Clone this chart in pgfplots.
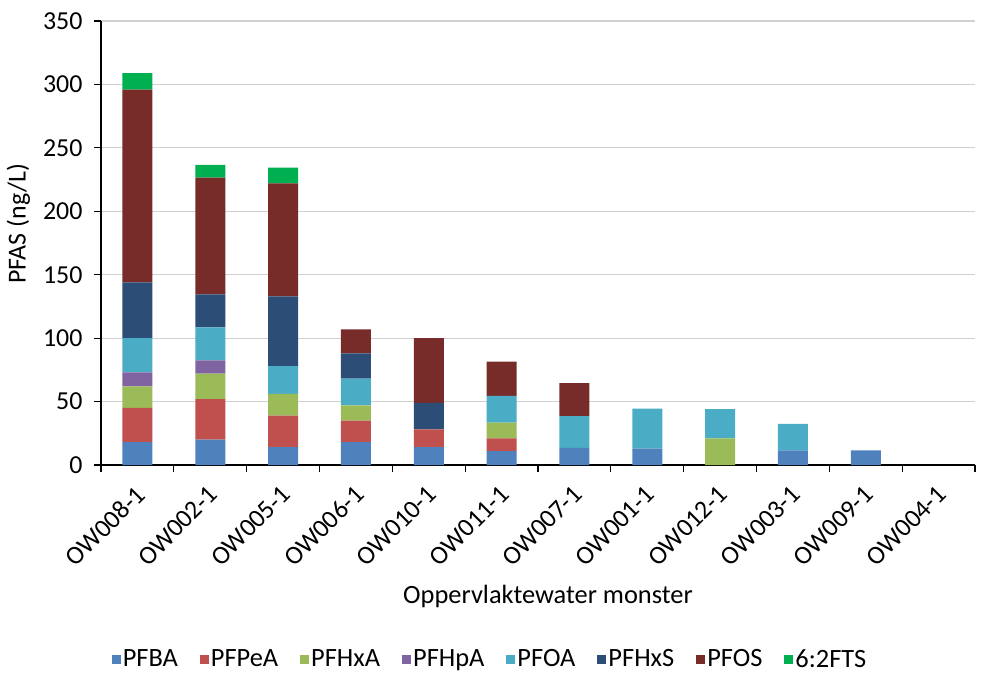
\documentclass[border=0pt]{standalone}
\usepackage{pgfplots}
\pgfplotsset{compat=1.18}
\usepackage{fontspec}
\setmainfont{Carlito}
\definecolor{cPFBA}{HTML}{4F81BD}
\definecolor{cPFPeA}{HTML}{C0504D}
\definecolor{cPFHxA}{HTML}{9BBB59}
\definecolor{cPFHpA}{HTML}{8064A2}
\definecolor{cPFOA}{HTML}{4BACC6}
\definecolor{cPFHxS}{HTML}{2C4D75}
\definecolor{cPFOS}{HTML}{772C2A}
\definecolor{cFTS}{HTML}{00B050}
\begin{document}
\begin{tikzpicture}
\useasboundingbox (-101bp,-208bp) rectangle (885bp,465bp);
\begin{axis}[
  at={(0,0)}, anchor=south west,
  scale only axis,
  width=874bp, height=444bp,
  ybar stacked,
  bar width=30bp,
  xmin=-0.5, xmax=11.5,
  ymin=0, ymax=350,
  ytick={0,50,...,350},
  xtick={0,...,11},
  xticklabels={OW008-1,OW002-1,OW005-1,OW006-1,OW010-1,OW011-1,OW007-1,OW001-1,OW012-1,OW003-1,OW009-1,OW004-1},
  minor xtick={-0.5,0.5,...,11.5},
  major x tick style={draw=none},
  minor x tick style={black, line width=1.2pt},
  x tick label style={xshift=-3bp, yshift=-12bp, rotate=45, anchor=north east, inner sep=0pt},
  y tick label style={xshift=-8bp},
  tick align=outside,
  major tick length=7bp,
  minor tick length=7bp,
  axis x line*=bottom,
  axis y line*=left,
  axis line style={black, line width=1.3pt},
  y tick style={black, line width=1.2pt},
  ymajorgrids,
  grid style={black!18, line width=1.1pt},
  tick label style={font=\fontsize{26}{30}\selectfont},
  /pgf/number format/assume math mode=true,
  ylabel={PFAS (ng/L)},
  ylabel style={font=\fontsize{26}{30}\selectfont, at={(axis description cs:-0.0944,0.543)}, anchor=center},
  xlabel={Oppervlaktewater monster},
  xlabel style={font=\fontsize{26.5}{30}\selectfont, at={(axis description cs:0.5,0)}, anchor=base, xshift=10bp, yshift=-138bp},
  legend style={draw=none, font=\fontsize{26.5}{30}\selectfont, at={(axis description cs:0.5,0)}, anchor=center, xshift=-48bp, yshift=-194bp,
    nodes={inner sep=2bp},
    /tikz/every odd column/.append style={column sep=0bp},
    /tikz/every even column/.append style={column sep=20bp}},
  legend columns=8,
  legend image code/.code={\fill[#1] (0bp,-4.5bp) rectangle (9bp,4.5bp);},
  enlargelimits=false,
  clip=false,
]
\addplot[fill=cPFBA, draw=none] coordinates {(0,18) (1,20) (2,14) (3,18) (4,14) (5,11) (6,13.5) (7,13) (8,0) (9,11.5) (10,11.5) (11,0)};
\addplot[fill=cPFPeA, draw=none] coordinates {(0,27) (1,32) (2,25) (3,17) (4,14) (5,10) (6,0) (7,0) (8,0) (9,0) (10,0) (11,0)};
\addplot[fill=cPFHxA, draw=none] coordinates {(0,17) (1,20) (2,17) (3,12) (4,0) (5,12.5) (6,0) (7,0) (8,21) (9,0) (10,0) (11,0)};
\addplot[fill=cPFHpA, draw=none] coordinates {(0,11) (1,10.5) (2,0) (3,0) (4,0) (5,0) (6,0) (7,0) (8,0) (9,0) (10,0) (11,0)};
\addplot[fill=cPFOA, draw=none] coordinates {(0,27) (1,26) (2,22) (3,21) (4,0) (5,21) (6,25) (7,31.5) (8,23) (9,21) (10,0) (11,0)};
\addplot[fill=cPFHxS, draw=none] coordinates {(0,44) (1,26) (2,55) (3,20) (4,21) (5,0) (6,0) (7,0) (8,0) (9,0) (10,0) (11,0)};
\addplot[fill=cPFOS, draw=none] coordinates {(0,152) (1,92) (2,89) (3,19) (4,51) (5,27) (6,26) (7,0) (8,0) (9,0) (10,0) (11,0)};
\addplot[fill=cFTS, draw=none] coordinates {(0,13) (1,10) (2,12.5) (3,0) (4,0) (5,0) (6,0) (7,0) (8,0) (9,0) (10,0) (11,0)};
\legend{PFBA,PFPeA,PFHxA,PFHpA,PFOA,PFHxS,PFOS,6:2FTS}
\end{axis}
\end{tikzpicture}
\end{document}
